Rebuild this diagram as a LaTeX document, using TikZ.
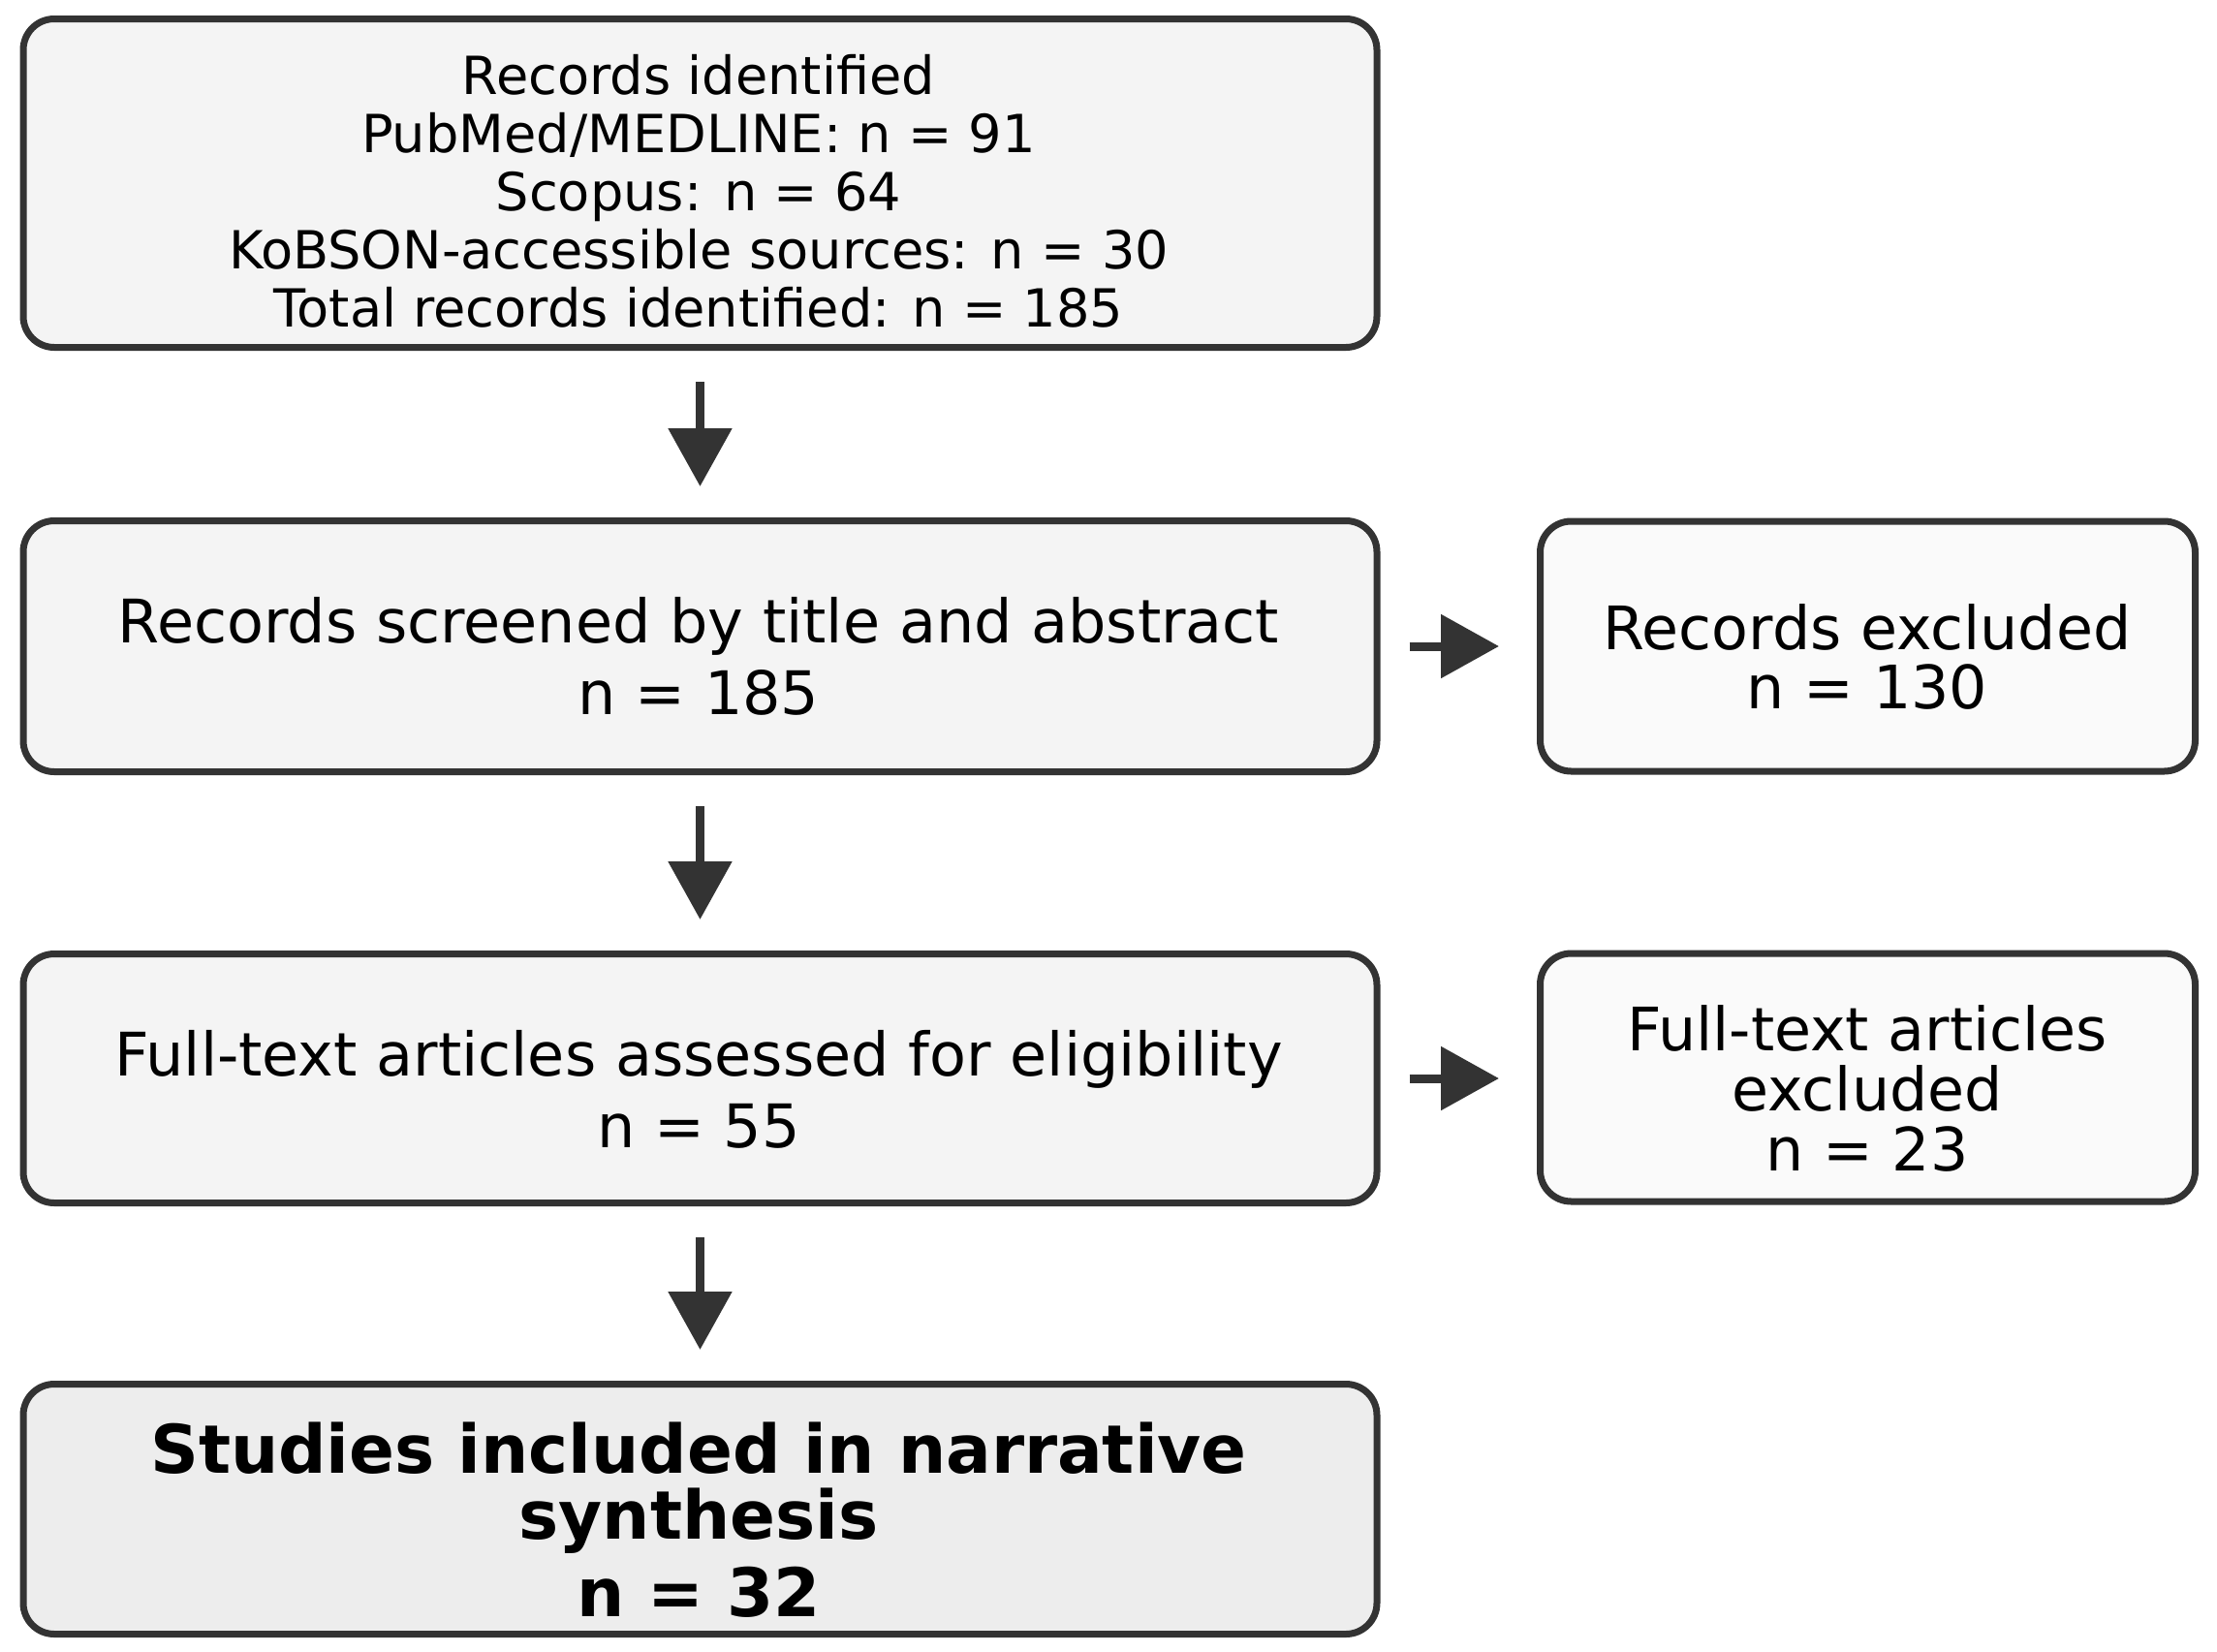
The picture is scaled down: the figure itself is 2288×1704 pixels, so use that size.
\documentclass[tikz,border=0pt]{standalone}
\usepackage{fontspec}
\setmainfont{DejaVu Sans}
\usetikzlibrary{arrows.meta}
\definecolor{strokec}{HTML}{333333}
\definecolor{fillmain}{HTML}{F4F4F4}
\definecolor{fillside}{HTML}{FAFAFA}
\definecolor{fillfinal}{HTML}{EDEDED}
\tikzset{
  box/.style={draw=strokec, line width=3.5pt, rounded corners=16pt, inner sep=0pt, minimum width=698.5pt},
  mainbox/.style={box, fill=fillmain},
  sidebox/.style={box, fill=fillside, minimum width=338pt},
  finalbox/.style={box, fill=fillfinal},
  label/.style={inner sep=0pt, align=center, text=black},
  arr/.style={draw=strokec, line width=4.5pt, -{Triangle[length=30pt,width=32pt]}, shorten <=16pt, shorten >=16pt},
}
\begin{document}
\begin{tikzpicture}[x=0.5pt,y=-0.5pt]
\useasboundingbox (0,0) rectangle (2288,1704);
\node[mainbox, minimum height=169.5pt] (b1) at (722.5,189) {};
\node[mainbox, minimum height=129.5pt] (b2) at (722.5,667) {};
\node[mainbox, minimum height=128.5pt] (b3) at (722.5,1113) {};
\node[finalbox, minimum height=129pt] (b4) at (722.5,1557.5) {};
\node[sidebox, minimum height=129pt] (r1) at (1927.5,667) {};
\node[sidebox, minimum height=128pt] (r2) at (1927.5,1112) {};

\node[label, font=\fontsize{27.1pt}{30pt}\selectfont] (t1) at (721,197)
  {Records identified\\PubMed/MEDLINE: n = 91\\Scopus: n = 64\\KoBSON-accessible sources: n = 30\\Total records identified: n = 185};
\node[label, font=\fontsize{31pt}{37pt}\selectfont] (t2) at (721,677)
  {Records screened by title and abstract\\n = 185};
\node[label, font=\fontsize{31pt}{37pt}\selectfont] (t3) at (721,1124)
  {Full-text articles assessed for eligibility\\n = 55};
\node[label, font=\fontsize{34.6pt}{34pt}\selectfont\bfseries] (t4) at (721,1569)
  {Studies included in narrative\\synthesis\\[6pt]n = 32};
\node[label, font=\fontsize{30.9pt}{30.5pt}\selectfont] (tr1) at (1927,677.5)
  {Records excluded\\n = 130};
\node[label, font=\fontsize{30.9pt}{31pt}\selectfont] (tr2) at (1927,1123.5)
  {Full-text articles\\excluded\\n = 23};

\draw[arr] (b1) -- (b2);
\draw[arr] (b2) -- (b3);
\draw[arr] (b3) -- (b4);
\draw[arr, shorten <=15pt, shorten >=19.5pt] (b2.east) -- (b2.east -| r1.west);
\draw[arr, shorten <=15pt, shorten >=19.5pt] (b3.east) -- (b3.east -| r2.west);
\end{tikzpicture}
\end{document}
